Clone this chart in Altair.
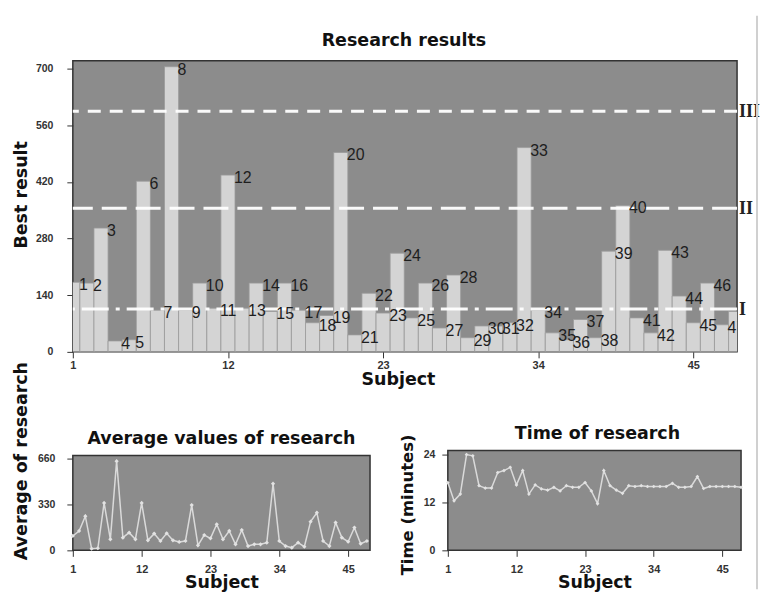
import altair as alt
import pandas as pd

# ---------------- data ----------------
subjects = list(range(1, 49))
best_result = [172, 170, 306, 27, 30, 422, 103, 705, 103, 170, 108, 437,
               108, 170, 100, 170, 103, 72, 90, 493, 42, 145, 96, 244,
               84, 170, 59, 190, 35, 64, 64, 72, 505, 103, 47, 30,
               80, 35, 249, 362, 84, 47, 251, 138, 72, 170, 67, 100]
average_values = [103, 139, 245, 12, 15, 340, 79, 640, 91, 127, 79, 340,
                  72, 120, 67, 122, 72, 60, 67, 325, 36, 110, 86, 187,
                  79, 139, 43, 146, 31, 43, 43, 55, 478, 67, 31, 19,
                  55, 26, 206, 270, 67, 31, 199, 91, 62, 163, 48, 67]
time_minutes = [17.0, 12.4, 14.1, 24.0, 23.7, 16.2, 15.6, 15.6, 19.5, 20.0, 20.8, 16.4,
                20.0, 14.1, 16.4, 15.4, 15.1, 15.8, 14.9, 16.2, 15.8, 15.8, 17.0, 14.9,
                11.7, 20.0, 16.2, 15.1, 14.3, 16.2, 16.0, 16.2, 16.0, 16.0, 16.0, 16.0,
                16.8, 15.8, 15.8, 16.0, 18.5, 15.5, 16.0, 16.0, 16.0, 16.0, 16.0, 15.8]
thresholds = [106, 355, 595]
threshold_names = ["I", "II", "III"]
x_ticks = [1, 12, 23, 34, 45]
y_ticks_best = [0, 140, 280, 420, 560, 700]
y_ticks_avg = [0, 330, 660]
y_ticks_time = [0, 12, 24]
titles = ["Research results", "Average values of research", "Time of research"]

TITLE_FONT = "DejaVu Sans"
LABEL_FONT = "Liberation Sans"
PLOT_BG = "#8c8c8c"
FRAME = "#333333"
LIGHT = "#d4d4d4"

df = pd.DataFrame({"subject": subjects, "best": best_result,
                   "avg": average_values, "time": time_minutes})
df["x0"] = df["subject"] - 0.5
df["x1"] = df["subject"] + 0.5
df["lab"] = df["subject"].astype(str)

thr = pd.DataFrame({"value": thresholds, "name": threshold_names})
one = pd.DataFrame({"t": [0]})

TOP_W, TOP_H = 666, 292
BL_W, BR_W, ROW_H = 298, 294, 100
X_MAX_TOP = 48.1
AVG_MAX = 680
BOTTOM_TITLE_Y = 32


def x_axis(title_x, title_y, pad):
    return alt.Axis(values=x_ticks, labelFont=LABEL_FONT, labelFontSize=11,
                    labelFontWeight="bold", labelColor="#333", tickColor="#333",
                    tickSize=6, domain=False, grid=False, labelPadding=pad,
                    labelFlush=False, title="Subject", titleFont=TITLE_FONT,
                    titleFontSize=17.5, titleFontWeight="bold", titleColor="#111",
                    titleX=title_x, titleY=title_y, titleAlign="center",
                    titleBaseline="middle")


def y_axis(values, title, title_x, title_y, pad, size):
    return alt.Axis(values=values, labelFont=LABEL_FONT, labelFontSize=10.5,
                    labelFontWeight="bold", labelColor="#333", tickColor="#333",
                    tickSize=6, domain=False, grid=False, labelPadding=pad,
                    title=title, titleFont=TITLE_FONT, titleFontSize=size,
                    titleFontWeight="bold", titleColor="#111", titleAngle=-90,
                    titleX=title_x, titleY=title_y, titleAlign="center",
                    titleBaseline="middle")


def title_text(text, x, y):
    return alt.Chart(one).mark_text(font=TITLE_FONT, fontSize=17.5, fontWeight="bold",
                                    color="#111", align="center", baseline="middle").encode(
        x=alt.value(x), y=alt.value(y), text=alt.value(text))


view_bg = alt.ViewBackground(fill=PLOT_BG, stroke=FRAME, strokeWidth=1.5)
no_bg = alt.ViewBackground(fill="white", strokeOpacity=0)

# ---------------- top chart ----------------
xs_top = alt.Scale(domain=[1, X_MAX_TOP], nice=False, zero=False)
ys_top = alt.Scale(domain=[0, 720], nice=False)

base_top = alt.Chart(df)

bars = base_top.mark_rect(clip=True, fill=LIGHT, stroke="#9a9a9a", strokeWidth=0.8).encode(
    x=alt.X("x0:Q", scale=xs_top, axis=x_axis(TOP_W / 2 - 7, 28, 2)),
    x2="x1:Q",
    y=alt.Y("best:Q", scale=ys_top,
            axis=y_axis(y_ticks_best, "Best result", -51, 134, 14, 17.5)),
    y2=alt.datum(0),
)

labels = base_top.mark_text(clip=True, align="left", baseline="middle", dx=-1, dy=3,
                            font=LABEL_FONT, fontSize=16, color="#1e1e1e").encode(
    x=alt.X("x1:Q", scale=xs_top),
    y=alt.Y("best:Q", scale=ys_top),
    text="lab:N",
)

rules = alt.Chart(thr).mark_rule(color="white", strokeWidth=3, opacity=0.95).encode(
    y=alt.Y("value:Q", scale=ys_top),
    strokeDash=alt.StrokeDash("name:N", legend=None,
                              scale=alt.Scale(domain=threshold_names,
                                              range=[[27, 7, 4, 7], [25, 9], [13, 9]])),
)

numerals = alt.Chart(thr).mark_text(align="left", baseline="middle", dx=2, dy=1,
                                    font="Liberation Serif", fontSize=18,
                                    fontWeight="bold", color="#222").encode(
    x=alt.datum(X_MAX_TOP, scale=xs_top),
    y=alt.Y("value:Q", scale=ys_top),
    text="name:N",
)

frame_line = alt.Chart(one).mark_rule(color="#d0d0d0", strokeWidth=2).encode(
    x=alt.value(TOP_W + 20), y=alt.value(-45), y2=alt.value(530),
)

top = alt.layer(bars, rules, labels, numerals, frame_line,
                title_text(titles[0], TOP_W / 2 - 1, -20)).properties(
    width=TOP_W, height=TOP_H, view=view_bg)

# ---------------- bottom-left chart ----------------
xs_bl = alt.Scale(domain=[1, 48.5], nice=False, zero=False)
ys_bl = alt.Scale(domain=[0, AVG_MAX * ROW_H / 95], nice=False)
base_bl = alt.Chart(df)
bl_bg = alt.Chart(one).mark_rect(fill=PLOT_BG, stroke=FRAME, strokeWidth=1.5).encode(
    x=alt.datum(1, scale=xs_bl), x2=alt.datum(48.5),
    y=alt.datum(0, scale=ys_bl), y2=alt.datum(AVG_MAX),
)
bl_line = base_bl.mark_line(color="#dadada", strokeWidth=1.5).encode(
    x=alt.X("subject:Q", scale=xs_bl, axis=x_axis(BL_W / 2, BOTTOM_TITLE_Y, 7)),
    y=alt.Y("avg:Q", scale=ys_bl,
            axis=y_axis(y_ticks_avg, "Average of research", -51, 10, 12, 17.5)),
)
bl_pts = base_bl.mark_point(shape="diamond", filled=True, size=18, color="#e2e2e2", opacity=1).encode(
    x=alt.X("subject:Q", scale=xs_bl), y=alt.Y("avg:Q", scale=ys_bl),
)
bl = alt.layer(bl_bg, bl_line, bl_pts, title_text(titles[1], BL_W / 2, -12)).properties(
    width=BL_W, height=ROW_H, view=no_bg)

# ---------------- bottom-right chart ----------------
xs_br = alt.Scale(domain=[1, 48], nice=False, zero=False)
ys_br = alt.Scale(domain=[0, 25], nice=False)
base_br = alt.Chart(df)
br_line = base_br.mark_line(color="#dadada", strokeWidth=1.5).encode(
    x=alt.X("subject:Q", scale=xs_br, axis=x_axis(BR_W / 2, BOTTOM_TITLE_Y, 7)),
    y=alt.Y("time:Q", scale=ys_br,
            axis=y_axis(y_ticks_time, "Time (minutes)", -40, 54, 7, 16.5)),
)
br_pts = base_br.mark_point(shape="diamond", filled=True, size=14, color="#e2e2e2", opacity=1).encode(
    x=alt.X("subject:Q", scale=xs_br), y=alt.Y("time:Q", scale=ys_br),
)
br = alt.layer(br_line, br_pts, title_text(titles[2], BR_W / 2 + 3, -17)).properties(
    width=BR_W, height=ROW_H, view=view_bg)

row = alt.hconcat(bl, br, spacing=78, bounds="flush").resolve_scale(
    x="independent", y="independent")
chart = alt.vconcat(top, row, spacing=99, bounds="flush").properties(
    padding={"left": 4, "top": 5, "right": 0, "bottom": 0},
    background="white",
).resolve_scale(x="independent", y="independent")

chart.save("out.html", embed_options={"renderer": "svg", "actions": False})
